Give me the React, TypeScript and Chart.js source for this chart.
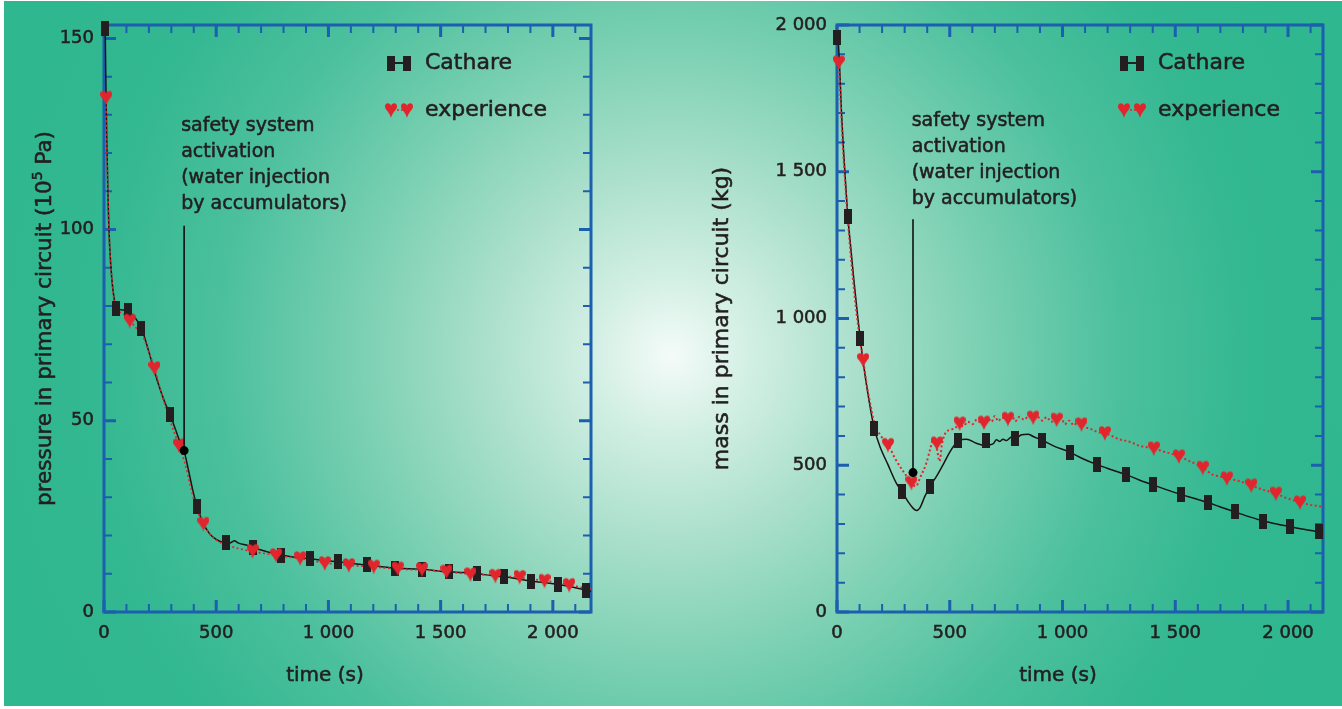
import { useEffect, useRef } from "react";
import { Chart, registerables } from "chart.js";

Chart.register(...registerables);

const FONT = "'DejaVu Sans', Lato, sans-serif";
const INK = "#231f20";
const FRAME = "#1b5fae";
const RED = "#e2252c";
const TEXT_STROKE = 0.55;

// ---------- shared x axis ----------
const xLabelValues = [0, 500, 1000, 1500, 2000];
const xMinorStep = 100;
const xMajorStep = 500;

// ---------- pressure panel ----------
const pYLabelValues = [0, 50, 100, 150];
const pCathareLineT = [0, 5, 8, 12, 18, 25, 35, 45, 55, 80, 105, 130, 150, 167, 185, 210, 240, 270, 295, 320, 345, 357, 375, 395, 415, 440, 470, 500, 530, 555, 570, 580, 600, 640, 666, 700, 750, 789, 850, 920, 980, 1044, 1100, 1170, 1230, 1295, 1360, 1417, 1480, 1537, 1600, 1664, 1720, 1784, 1840, 1903, 1960, 2023, 2080, 2170];
const pCathareLineV = [153, 152, 140, 125, 108, 96, 87, 82, 79.5, 79, 78.8, 77.5, 76, 74.2, 71, 66, 60, 55, 51.6, 47.5, 43.5, 42, 37.5, 32, 27.5, 23.5, 20.5, 19, 18.2, 17.9, 18.3, 18.6, 18, 17.4, 16.9, 16.2, 15.4, 14.9, 14.3, 13.9, 13.5, 13.1, 12.7, 12.3, 11.9, 11.5, 11.3, 11.2, 10.8, 10.5, 10.3, 10, 9.6, 9.2, 8.7, 8.1, 7.7, 7.2, 6.6, 5.4];
const pCathareMarkT = [6, 52, 105, 167, 295, 415, 543, 666, 789, 920, 1044, 1170, 1295, 1417, 1537, 1664, 1784, 1903, 2023, 2147];
const pCathareMarkV = [152.5, 79.3, 78.8, 74.2, 51.6, 27.5, 18.2, 16.9, 14.9, 13.9, 13.1, 12.3, 11.5, 11.2, 10.5, 10.0, 9.2, 8.1, 7.2, 5.7];
const pExpLineT = [8, 12, 18, 25, 35, 45, 60, 85, 115, 140, 170, 200, 225, 250, 280, 310, 334, 360, 385, 410, 443, 470, 500, 530, 560, 600, 662, 715, 767, 820, 874, 930, 984, 1040, 1091, 1150, 1202, 1255, 1309, 1360, 1417, 1470, 1526, 1580, 1633, 1690, 1744, 1800, 1852, 1910, 1963, 2020, 2073, 2170];
const pExpLineV = [134.5, 122, 108, 96, 87, 81.5, 79, 78, 76.2, 74.5, 72.5, 68, 63.8, 58.5, 52.5, 47.5, 43.6, 39, 33, 27.5, 23, 20.5, 18.8, 17.8, 17.2, 16.6, 15.8, 15.3, 14.8, 14.4, 14.0, 13.4, 12.8, 12.5, 12.2, 12.0, 11.8, 11.5, 11.3, 11.1, 11.0, 10.8, 10.5, 10.2, 9.9, 9.7, 9.5, 9.3, 9.0, 8.6, 8.2, 7.7, 7.1, 6.0];
const pExpHeartT = [10, 115, 225, 334, 443, 662, 767, 874, 984, 1091, 1202, 1309, 1417, 1526, 1633, 1744, 1852, 1963, 2073];
const pExpHeartV = [134.5, 76.2, 63.8, 43.6, 23.1, 16.0, 14.9, 14.1, 12.8, 12.3, 11.9, 11.4, 11.2, 10.6, 9.9, 9.5, 9.2, 8.2, 7.1];

// ---------- mass panel ----------
const mYLabelValues = [0, 500, 1000, 1500, 2000];
const mCathareLineT = [0, 5, 12, 20, 30, 40, 48, 60, 75, 90, 103, 120, 140, 165, 190, 226, 263, 288, 315, 337, 352, 367, 389, 412, 441, 478, 500, 522, 540, 574, 618, 655, 692, 707, 722, 736, 751, 774, 796, 818, 847, 870, 910, 960, 1033, 1090, 1153, 1220, 1282, 1340, 1402, 1460, 1527, 1590, 1645, 1700, 1765, 1830, 1891, 1950, 2009, 2070, 2155];
const mCathareLineV = [1975, 1950, 1850, 1700, 1560, 1440, 1348, 1250, 1130, 1020, 931, 830, 730, 626, 565, 502, 439, 410, 376, 354, 346, 354, 393, 428, 462, 513, 545, 570, 585, 589, 575, 568, 573, 587, 581, 589, 584, 596, 593, 604, 606, 598, 585, 566, 544, 522, 502, 484, 468, 450, 433, 417, 400, 386, 373, 358, 341, 324, 310, 300, 291, 282, 271];
const mCathareMarkT = [0, 48, 103, 165, 288, 412, 535, 661, 789, 910, 1033, 1153, 1282, 1402, 1527, 1645, 1765, 1891, 2009, 2136];
const mCathareMarkV = [1958, 1348, 931, 626, 410, 427, 584, 584, 591, 584, 544, 502, 468, 433, 400, 373, 341, 310, 291, 273];
const mExpLineT = [8, 15, 25, 40, 55, 70, 85, 100, 116, 135, 150, 165, 190, 226, 260, 295, 330, 349, 370, 396, 415, 426, 440, 455, 465, 477, 500, 522, 543, 560, 580, 600, 620, 640, 652, 670, 685, 700, 715, 730, 757, 775, 790, 810, 830, 850, 870, 890, 910, 930, 950, 975, 995, 1010, 1030, 1050, 1064, 1084, 1100, 1120, 1140, 1160, 1188, 1223, 1254, 1298, 1343, 1405, 1446, 1480, 1516, 1565, 1595, 1622, 1668, 1700, 1729, 1787, 1836, 1891, 1946, 1994, 2053, 2098, 2155];
const mExpLineV = [1873, 1760, 1600, 1420, 1270, 1140, 1030, 940, 859, 760, 700, 645, 605, 570, 520, 478, 441, 428, 460, 507, 560, 587, 570, 513, 570, 604, 621, 625, 643, 632, 648, 640, 655, 643, 646, 660, 648, 668, 650, 662, 659, 670, 650, 665, 655, 668, 663, 664, 652, 664, 648, 656, 660, 640, 652, 636, 645, 640, 630, 625, 618, 612, 610, 598, 588, 580, 566, 558, 547, 540, 531, 513, 503, 492, 467, 462, 456, 445, 432, 416, 404, 388, 374, 365, 359];
const mExpHeartT = [8, 116, 226, 330, 443, 544, 652, 758, 870, 974, 1084, 1188, 1405, 1516, 1622, 1729, 1837, 1946, 2053];
const mExpHeartV = [1873, 859, 570, 441, 575, 643, 646, 659, 663, 656, 640, 610, 558, 531, 492, 456, 432, 404, 374];

const annotationLines = ["safety system", "activation", "(water injection", "by accumulators)"];
const legendLabels = ["Cathare", "experience"];

function fmt(v: number): string {
  if (v >= 1000) {
    const th = Math.floor(v / 1000);
    const rest = String(v % 1000).padStart(3, "0");
    return `${th} ${rest}`;
  }
  return String(v);
}

function makeHeart(): HTMLCanvasElement {
  const w = 12, h = 16;
  const c = document.createElement("canvas");
  c.width = w; c.height = h;
  const g = c.getContext("2d")!;
  g.fillStyle = RED;
  g.beginPath();
  g.moveTo(w / 2, h * 0.25);
  g.bezierCurveTo(w * 0.45, h * 0.02, 0, h * 0.0, 0, h * 0.28);
  g.bezierCurveTo(0, h * 0.5, w * 0.4, h * 0.62, w / 2, h);
  g.bezierCurveTo(w * 0.6, h * 0.62, w, h * 0.5, w, h * 0.28);
  g.bezierCurveTo(w, h * 0.0, w * 0.55, h * 0.02, w / 2, h * 0.25);
  g.closePath();
  g.fill();
  return c;
}

function makeRect(): HTMLCanvasElement {
  const c = document.createElement("canvas");
  c.width = 8; c.height = 15;
  const g = c.getContext("2d")!;
  g.fillStyle = INK;
  g.fillRect(0, 0, 8, 15);
  return c;
}

type Panel = {
  id: string;
  cLineT: number[]; cLineV: number[];
  cMarkT: number[]; cMarkV: number[];
  eLineT: number[]; eLineV: number[];
  eHeartT: number[]; eHeartV: number[];
  xMax: number; yMax: number;
  yLabels: number[]; yMinor: number; yMajor: number;
  yAxisWidth: number; padRight: number;
  yTitleX: number; yTitleSize: number;
  yTitle: [string, string, string];
  expWidth: number;
  annT: number; annV: number; annTop: number; annTextT: number; annTextV: number;
};

const pts = (t: number[], v: number[]) => t.map((x, i) => ({ x, y: v[i] }));

function heavyText(ctx: CanvasRenderingContext2D, s: string, x: number, y: number) {
  ctx.fillText(s, x, y);
  ctx.strokeText(s, x, y);
}

function buildConfig(p: Panel, heart: HTMLCanvasElement, rect: HTMLCanvasElement): any {
  const deco = {
    id: "deco_" + p.id,
    beforeDatasetsDraw(chart: any) {
      const { ctx, chartArea: a, scales } = chart;
      const xs = scales.x, ys = scales.y;
      ctx.save();
      ctx.strokeStyle = FRAME;
      for (let v = 0; v <= p.xMax; v += xMinorStep) {
        const major = v % xMajorStep === 0;
        const px = xs.getPixelForValue(v);
        const len = major ? 12 : 8;
        ctx.lineWidth = major ? 3 : 2;
        ctx.beginPath();
        ctx.moveTo(px, a.bottom); ctx.lineTo(px, a.bottom - len);
        ctx.moveTo(px, a.top); ctx.lineTo(px, a.top + len);
        ctx.stroke();
      }
      for (let v = 0; v <= p.yMax + 1e-9; v += p.yMinor) {
        const major = Math.abs(v % p.yMajor) < 1e-6;
        const py = ys.getPixelForValue(v);
        const len = major ? 12 : 8;
        ctx.lineWidth = major ? 3 : 2;
        ctx.beginPath();
        ctx.moveTo(a.left, py); ctx.lineTo(a.left + len, py);
        ctx.moveTo(a.right, py); ctx.lineTo(a.right - len, py);
        ctx.stroke();
      }
      ctx.lineWidth = 3;
      ctx.strokeRect(a.left, a.top, a.right - a.left, a.bottom - a.top);
      ctx.restore();
    },
    afterDatasetsDraw(chart: any) {
      const { ctx, chartArea: a, scales } = chart;
      const xs = scales.x, ys = scales.y;
      ctx.save();
      const ax = xs.getPixelForValue(p.annT);
      ctx.strokeStyle = "#111";
      ctx.lineWidth = 1.6;
      ctx.beginPath();
      ctx.moveTo(ax, ys.getPixelForValue(p.annTop));
      ctx.lineTo(ax, ys.getPixelForValue(p.annV));
      ctx.stroke();
      ctx.fillStyle = "#000";
      ctx.beginPath();
      ctx.arc(ax, ys.getPixelForValue(p.annV), 4.5, 0, Math.PI * 2);
      ctx.fill();

      ctx.fillStyle = INK;
      ctx.strokeStyle = INK;
      ctx.lineWidth = TEXT_STROKE;
      ctx.font = `19px ${FONT}`;
      ctx.textAlign = "left";
      ctx.textBaseline = "middle";
      const tx = xs.getPixelForValue(p.annTextT);
      const ty = ys.getPixelForValue(p.annTextV);
      annotationLines.forEach((s, i) => heavyText(ctx, s, tx, ty + i * 26));

      // legend
      const lx = a.left + 283;
      const ly1 = a.top + 38;
      const ly2 = a.top + 85;
      ctx.strokeStyle = INK;
      ctx.lineWidth = 2;
      ctx.beginPath();
      ctx.moveTo(lx + 4, ly1); ctx.lineTo(lx + 20, ly1);
      ctx.stroke();
      ctx.drawImage(rect, lx, ly1 - 7.5);
      ctx.drawImage(rect, lx + 16, ly1 - 7.5);
      ctx.strokeStyle = RED;
      ctx.lineWidth = 1.5;
      ctx.setLineDash([2, 2]);
      ctx.beginPath();
      ctx.moveTo(lx + 6, ly2); ctx.lineTo(lx + 19, ly2);
      ctx.stroke();
      ctx.setLineDash([]);
      ctx.drawImage(heart, lx - 2, ly2 - 8);
      ctx.drawImage(heart, lx + 14, ly2 - 8);
      ctx.fillStyle = INK;
      ctx.strokeStyle = INK;
      ctx.lineWidth = TEXT_STROKE;
      ctx.font = `22px ${FONT}`;
      heavyText(ctx, legendLabels[0], a.left + 321, ly1);
      heavyText(ctx, legendLabels[1], a.left + 321, ly2);

      // x title
      ctx.font = `20px ${FONT}`;
      ctx.textAlign = "center";
      heavyText(ctx, "time (s)", a.left + 221, a.bottom + 64);

      // y title (rotated, with superscript part)
      const cy = (a.top + a.bottom) / 2;
      ctx.translate(p.yTitleX, cy);
      ctx.rotate(-Math.PI / 2);
      ctx.textAlign = "left";
      const f1 = `${p.yTitleSize}px ${FONT}`, f2 = `${Math.round(p.yTitleSize * 0.65)}px ${FONT}`;
      ctx.font = f1; const w1 = ctx.measureText(p.yTitle[0]).width;
      ctx.font = f2; const w2 = ctx.measureText(p.yTitle[1]).width;
      ctx.font = f1; const w3 = ctx.measureText(p.yTitle[2]).width;
      let sx = -(w1 + w2 + w3) / 2;
      ctx.font = f1; heavyText(ctx, p.yTitle[0], sx, 0); sx += w1;
      ctx.font = f2; if (p.yTitle[1]) heavyText(ctx, p.yTitle[1], sx, -7); sx += w2;
      ctx.font = f1; if (p.yTitle[2]) heavyText(ctx, p.yTitle[2], sx, 0);
      ctx.restore();
    },
  };

  const tickFont = { family: FONT, size: 18 };

  return {
    type: "line",
    data: {
      datasets: [
        { label: "experience markers", data: pts(p.eHeartT, p.eHeartV), showLine: false, pointStyle: heart, pointRadius: 7, clip: false },
        { label: "Cathare markers", data: pts(p.cMarkT, p.cMarkV), showLine: false, pointStyle: rect, pointRadius: 7, clip: false },
        { label: "experience", data: pts(p.eLineT, p.eLineV), borderColor: RED, borderWidth: p.expWidth, borderDash: [2, 2.5], pointRadius: 0, cubicInterpolationMode: "monotone", fill: false },
        { label: "Cathare", data: pts(p.cLineT, p.cLineV), borderColor: "#151515", borderWidth: 1.5, pointRadius: 0, cubicInterpolationMode: "monotone", fill: false },
      ],
    },
    options: {
      responsive: false,
      animation: false,
      devicePixelRatio: 1,
      events: [],
      layout: { padding: { top: 25, right: p.padRight, left: 0, bottom: 0 } },
      plugins: { legend: { display: false }, tooltip: { enabled: false }, title: { display: false } },
      scales: {
        x: {
          type: "linear",
          min: 0,
          max: p.xMax,
          grid: { display: false, drawTicks: false },
          border: { display: false },
          afterBuildTicks: (s: any) => { s.ticks = xLabelValues.map((v) => ({ value: v })); },
          afterFit: (s: any) => { s.height = 97; },
          ticks: { autoSkip: false, maxRotation: 0, padding: 11, color: INK, textStrokeColor: INK, textStrokeWidth: TEXT_STROKE, font: tickFont, callback: (v: any) => fmt(Number(v)) },
        },
        y: {
          type: "linear",
          min: 0,
          max: p.yMax,
          grid: { display: false, drawTicks: false },
          border: { display: false },
          afterBuildTicks: (s: any) => { s.ticks = p.yLabels.map((v) => ({ value: v })); },
          afterFit: (s: any) => { s.width = p.yAxisWidth; },
          ticks: { autoSkip: false, padding: 10, color: INK, textStrokeColor: INK, textStrokeWidth: TEXT_STROKE, font: tickFont, callback: (v: any) => fmt(Number(v)) },
        },
      },
    },
    plugins: [deco],
  };
}

const pressurePanel: Panel = {
  id: "p",
  cLineT: pCathareLineT, cLineV: pCathareLineV,
  cMarkT: pCathareMarkT, cMarkV: pCathareMarkV,
  eLineT: pExpLineT, eLineV: pExpLineV,
  eHeartT: pExpHeartT, eHeartV: pExpHeartV,
  xMax: 2170, yMax: 153.5,
  yLabels: pYLabelValues, yMinor: 10, yMajor: 50,
  yAxisWidth: 104, padRight: 80,
  yTitleX: 45, yTitleSize: 21.5,
  yTitle: ["pressure in primary circuit (10", "5", " Pa)"],
  expWidth: 1.7,
  annT: 357, annV: 42.2, annTop: 101, annTextT: 344, annTextV: 127,
};

const massPanel: Panel = {
  id: "m",
  cLineT: mCathareLineT, cLineV: mCathareLineV,
  cMarkT: mCathareMarkT, cMarkV: mCathareMarkV,
  eLineT: mExpLineT, eLineV: mExpLineV,
  eHeartT: mExpHeartT, eHeartV: mExpHeartV,
  xMax: 2155, yMax: 2000,
  yLabels: mYLabelValues, yMinor: 100, yMajor: 500,
  yAxisWidth: 166, padRight: 19,
  yTitleX: 51, yTitleSize: 22,
  yTitle: ["mass in primary circuit (kg)", "", ""],
  expWidth: 2,
  annT: 337, annV: 475, annTop: 1338, annTextT: 331, annTextV: 1672,
};

export default function App() {
  const leftRef = useRef<HTMLCanvasElement>(null);
  const rightRef = useRef<HTMLCanvasElement>(null);

  useEffect(() => {
    const heart = makeHeart();
    const rect = makeRect();
    const c1 = new Chart(leftRef.current!, buildConfig(pressurePanel, heart, rect));
    const c2 = new Chart(rightRef.current!, buildConfig(massPanel, heart, rect));
    return () => {
      c1.destroy();
      c2.destroy();
    };
  }, []);

  const canvasStyle = (left: number): React.CSSProperties => ({
    position: "absolute", left, top: 0, width: 671, height: 709, display: "block",
  });

  return (
    <div style={{ position: "absolute", left: 0, top: 0, width: 1342, height: 709, background: "#ffffff", overflow: "hidden" }}>
      <div
        style={{
          position: "absolute", left: 4, top: 1, right: 0, bottom: 3,
          background:
            "radial-gradient(circle at 667px 354px, #f4fbf8 0px, #d2efe4 80px, #a9dfcb 190px, #78cfb1 320px, #4cc09d 450px, #33b891 580px, #2fb78f 700px)",
        }}
      />
      <canvas ref={leftRef} width={671} height={709} style={canvasStyle(0)} />
      <canvas ref={rightRef} width={671} height={709} style={canvasStyle(671)} />
    </div>
  );
}
